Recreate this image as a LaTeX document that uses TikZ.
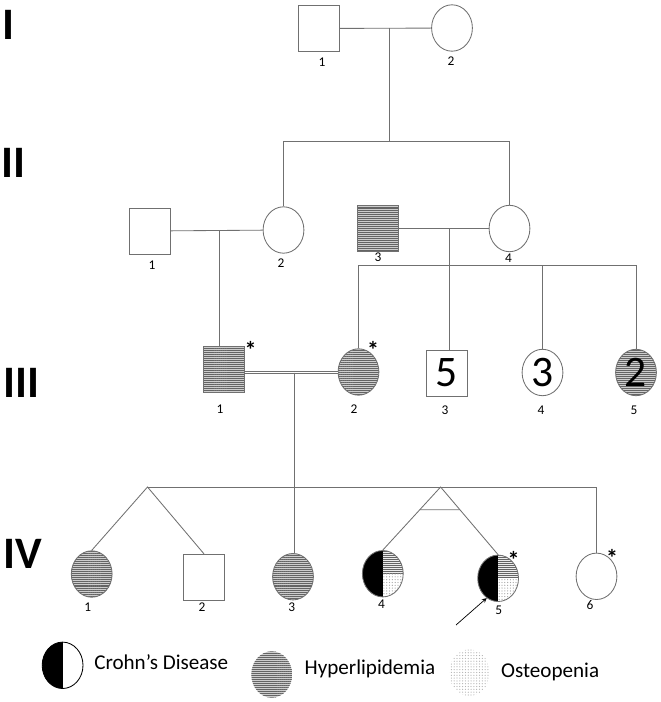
\documentclass[tikz,border=0pt]{standalone}
\usepackage{fontspec}
\setmainfont{Carlito}
\usepackage{tikz}
\usetikzlibrary{shapes,arrows,positioning,calc,patterns.meta}
\definecolor{lineg}{RGB}{112,112,112}
\definecolor{hatchbg}{RGB}{205,205,205}
\definecolor{hatchfg}{RGB}{100,100,100}

\tikzdeclarepattern{
  name=hlines,
  type=uncolored,
  bottom left={(-.1pt,-.1pt)},
  top right={(1.5pt,1.5pt)},
  tile size={(1.4pt,1.4pt)},
  code={\draw[line width=0.5pt] (-.1pt,0.7pt) -- (1.5pt,0.7pt);}
}
\tikzdeclarepattern{
  name=finedots,
  type=uncolored,
  bottom left={(-.1pt,-.1pt)},
  top right={(2.1pt,2.1pt)},
  tile size={(2pt,2pt)},
  code={\fill (1pt,1pt) circle (0.45pt);}
}

\begin{document}
\begin{tikzpicture}[x=0.025cm, y=-0.025cm,
    male/.style={rectangle, draw=lineg, line width=0.6pt, minimum width=1.025cm,
                 minimum height=1.15cm, inner sep=0pt},
    female/.style={ellipse, draw=lineg, line width=0.6pt, minimum width=1.02cm,
                   minimum height=1.16cm, inner sep=0pt},
    hyper/.style={path picture={
        \fill[hatchbg] (path picture bounding box.south west) rectangle (path picture bounding box.north east);
        \fill[pattern=hlines, pattern color=hatchfg] (path picture bounding box.south west) rectangle (path picture bounding box.north east);}},
    crohn/.style={path picture={
        \fill[black] (path picture bounding box.south west) rectangle (path picture bounding box.north);}},
    combo/.style={path picture={
        \fill[black] (path picture bounding box.south west) rectangle (path picture bounding box.north);
        \fill[gray!15] (path picture bounding box.center) rectangle (path picture bounding box.north east);
        \fill[pattern=hlines, pattern color=hatchfg] (path picture bounding box.center) rectangle (path picture bounding box.north east);
        \fill[pattern=finedots, pattern color=gray!70] (path picture bounding box.center) rectangle (path picture bounding box.south east);}},
    dotted fill/.style={path picture={
        \fill[pattern=finedots, pattern color=gray!60] (path picture bounding box.south west) rectangle (path picture bounding box.north east);}},
    link/.style={draw=lineg, line width=0.6pt},
    num/.style={font=\fontsize{9.5}{10}\selectfont, inner sep=0pt},
    big/.style={font=\fontsize{31}{31}\selectfont},
    gen/.style={font=\fontsize{32}{32}\selectfont\bfseries, inner sep=0pt},
    star/.style={font=\fontsize{17}{17}\selectfont\bfseries, inner sep=0pt, anchor=north},
    legend/.style={font=\fontsize{15}{15}\selectfont, anchor=base west, inner sep=0pt},
    arrow/.style={->, >=stealth, black, line width=0.5pt}
]
\useasboundingbox (0,0) rectangle (661,702);

\node[gen] (gI) at (8,25) {I};
\node[gen] (gII) at (13,163) {II};
\node[gen] (gIII) at (21,383) {III};
\node[gen] (gIV) at (23,554) {IV};

\node[male] (I1) at (319,28.5) {};
\node[female] (I2) at (452,28) {};
\node[num] (nI1) at (322,62) {1};
\node[num] (nI2) at (451,61) {2};

\node[male] (II1) at (149.5,231) {};
\node[female] (II2) at (283.5,230) {};
\node[male, hyper] (II3) at (378,228.5) {};
\node[female] (II4) at (509.5,228.5) {};
\node[num] (nII1) at (152,265) {1};
\node[num] (nII2) at (281,263.5) {2};
\node[num] (nII3) at (378,257.5) {3};
\node[num] (nII4) at (508.5,258.5) {4};

\node[male, hyper] (III1) at (224,369) {};
\node[female, hyper] (III2) at (358.5,372) {};
\node[male, big] (III3) at (447,373) {5};
\node[female, big] (III4) at (542.5,372.5) {3};
\node[female, hyper, big] (III5) at (636,372.5) {2};
\node[num] (nIII1) at (220,409) {1};
\node[num] (nIII2) at (354,409) {2};
\node[num] (nIII3) at (445,410) {3};
\node[num] (nIII4) at (541,410) {4};
\node[num] (nIII5) at (634,410) {5};
\node[star] (sIII1) at (250.5,341.5) {*};
\node[star] (sIII2) at (373,341) {*};

\node[female, hyper] (IV1) at (91.7,574) {};
\node[male] (IV2) at (204,577.3) {};
\node[female, hyper] (IV3) at (293,576.7) {};
\node[female, combo] (IV4) at (382.8,573.7) {};
\node[female, combo] (IV5) at (498.1,578.3) {};
\node[female] (IV6) at (596.5,576.3) {};
\node[num] (nIV1) at (87.7,607) {1};
\node[num] (nIV2) at (202,607) {2};
\node[num] (nIV3) at (291.7,607) {3};
\node[num] (nIV4) at (381.5,604.5) {4};
\node[num] (nIV5) at (498.7,610) {5};
\node[num] (nIV6) at (590,605.5) {6};
\node[star] (sIV5) at (513.5,551) {*};
\node[star] (sIV6) at (612,549.5) {*};

\coordinate (m1) at (389,28);
\coordinate (sib1) at (389,141);
\coordinate (m2) at (219.5,230);
\coordinate (m3) at (449,228.5);
\coordinate (sib2) at (449,265);
\coordinate (m4) at (294,372.5);
\coordinate (dz) at (147.5,487);
\coordinate (mz) at (440.6,487);
\coordinate (pb) at (456,625);

\draw[link] (I1) -- (I2);
\draw[link] (m1) -- (sib1);
\draw[link] (II2.north) -- (II2.north |- sib1) -- (II4.north |- sib1) -- (II4.north);

\draw[link] (II1) -- (II2);
\draw[link] (m2) -- (m2 |- III1.north);
\draw[link] (II3) -- (II4);
\draw[link] (m3) -- (m3 |- III3.north);
\draw[link] (III2.north) -- (III2.north |- sib2) -- (III5.north |- sib2) -- (III5.north);
\draw[link] (III4.north |- sib2) -- (III4.north);

\draw[link, double, double distance=0.7pt, line width=0.45pt] (III1.east |- m4) -- (III2.west |- m4);
\draw[link] (m4) -- (m4 |- IV3.north);
\draw[link] (dz) -- (IV6.north |- dz) -- (IV6.north);
\draw[link] (IV1.north) -- (dz) -- (IV2.north);
\draw[link] (IV4.north) -- (mz) -- (IV5.north);
\draw[link] ($(mz)!0.36!(IV4.north)$) -- ($(mz)!0.335!(IV5.north)$);
\draw[arrow] (pb) -- (IV5.240);

\node[female, draw=black, crohn] (L1) at (62.6,665.3) {};
\node[legend] (t1) at (94,669.5) {Crohn’s Disease};
\node[female, draw=none, hyper] (L2) at (271.7,674.5) {};
\node[legend] (t2) at (304.4,674) {Hyperlipidemia};
\node[female, draw=none, dotted fill] (L3) at (469.5,672.7) {};
\node[legend] (t3) at (500.8,677.3) {Osteopenia};

\end{tikzpicture}
\end{document}
